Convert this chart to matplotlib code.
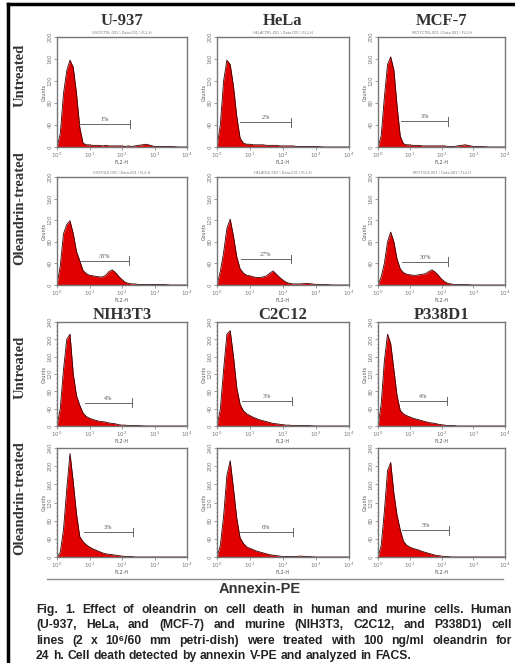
import numpy as np
import matplotlib.pyplot as plt
from matplotlib.lines import Line2D

# FL2-H positions in decades (10^0 .. 10^4)
decades = [0, .1, .2, .3, .4, .5, .6, .7, .8, .9, 1.0, 1.1, 1.2, 1.3, 1.4, 1.5,
           1.6, 1.7, 1.8, 1.9, 2.0, 2.1, 2.2, 2.3, 2.4, 2.5, 2.75, 3.0, 3.25,
           3.5, 3.75, 4.0]

# counts, human cells (rows 1-2)
u937_untreated = [0, 24, 97, 139, 158, 145, 97, 36, 7, 4, 4, 3, 3, 3, 2, 3, 2, 2, 2, 2, 2, 1, 2, 1, 2, 3, 5, 1, 1, 1, 0, 0]
hela_untreated = [0, 40, 120, 158, 150, 110, 55, 16, 7, 5, 5, 4, 4, 4, 4, 3, 3, 3, 3, 2, 2, 2, 2, 2, 1, 1, 1, 1, 0, 0, 0, 0]
mcf7_untreated = [0, 20, 90, 150, 164, 140, 75, 20, 6, 4, 4, 3, 3, 3, 2, 2, 2, 2, 2, 2, 2, 2, 1, 1, 1, 2, 4, 1, 1, 0, 0, 0]
u937_treated = [0, 35, 95, 112, 119, 95, 62, 45, 27, 21, 18, 17, 16, 15, 15, 18, 25, 28, 23, 16, 10, 5, 3, 2, 2, 1, 1, 1, 1, 0, 0, 0]
hela_treated = [0, 25, 60, 105, 122, 90, 52, 30, 22, 18, 17, 15, 14, 14, 15, 17, 22, 26, 20, 14, 9, 5, 3, 2, 2, 2, 3, 1, 1, 0, 0, 0]
mcf7_treated = [0, 15, 40, 80, 98, 80, 48, 30, 23, 20, 19, 18, 18, 19, 20, 21, 25, 28, 24, 18, 11, 6, 3, 2, 1, 1, 1, 0, 0, 0, 0, 0]

# counts, murine cells (rows 3-4)
nih_untreated = [0, 40, 130, 200, 212, 120, 70, 48, 30, 22, 18, 15, 13, 11, 10, 9, 7, 6, 5, 3, 2, 2, 1, 1, 1, 1, 0, 0, 0, 0, 0, 0]
c2c12_untreated = [0, 38, 130, 212, 220, 160, 88, 50, 35, 28, 24, 20, 17, 14, 12, 10, 8, 6, 5, 4, 3, 2, 2, 1, 1, 1, 1, 0, 0, 0, 0, 0]
p338_untreated = [0, 50, 150, 212, 190, 130, 70, 36, 28, 24, 21, 18, 16, 14, 12, 10, 8, 7, 6, 4, 3, 2, 1, 1, 1, 0, 0, 0, 0, 0, 0, 0]
nih_treated = [0, 10, 60, 150, 228, 165, 95, 45, 34, 27, 22, 18, 15, 12, 9, 7, 6, 5, 4, 3, 2, 1, 1, 1, 0, 0, 0, 0, 0, 0, 0, 0]
c2c12_treated = [0, 25, 90, 180, 212, 150, 85, 42, 30, 22, 19, 16, 13, 11, 9, 7, 5, 4, 3, 2, 1, 1, 1, 1, 1, 2, 1, 0, 0, 0, 0, 0]
p338_treated = [0, 25, 100, 190, 208, 140, 92, 60, 35, 26, 22, 19, 17, 15, 12, 10, 8, 6, 4, 3, 2, 1, 1, 0, 0, 0, 0, 0, 0, 0, 0, 0]

counts = [[u937_untreated, hela_untreated, mcf7_untreated],
          [u937_treated, hela_treated, mcf7_treated],
          [nih_untreated, c2c12_untreated, p338_untreated],
          [nih_treated, c2c12_treated, p338_treated]]

# marker gates: (start decade, end decade, height, label)
gates = [[(0.67, 2.26, 42, '1%'), (0.70, 2.25, 45, '2%'), (0.74, 2.20, 47, '3%')],
         [(0.71, 2.23, 45, '33%'), (0.73, 2.23, 48, '27%'), (0.77, 2.22, 43, '30%')],
         [(0.85, 2.30, 54, '4%'), (0.76, 2.27, 57, '3%'), (0.69, 2.18, 58, '4%')],
         [(0.82, 2.33, 55, '3%'), (0.68, 2.29, 55, '6%'), (0.76, 2.24, 59, '5%')]]

human_lines = ['U-937', 'HeLa', 'MCF-7']
murine_lines = ['NIH3T3', 'C2C12', 'P338D1']
row_labels = ['Untreated', 'Oleandrin-treated', 'Untreated', 'Oleandrin-treated']
file_tags = [['U937CTRL.001 \\ Data.001 \\ FL2-H', 'HELACTRL.001 \\ Data.001 \\ FL2-H', 'MCF7CTRL.001 \\ Data.001 \\ FL2-H'],
             ['U937OLE.001 \\ Data.001 \\ FL2-H', 'HELAOLE.001 \\ Data.001 \\ FL2-H', 'MCF7OLE.001 \\ Data.001 \\ FL2-H']]

caption = ["Fig. 1. Effect of oleandrin on cell death in human and murine cells. Human",
           "(U-937, HeLa, and (MCF-7) and murine (NIH3T3, C2C12, and P338D1) cell",
           "lines (2 x 10⁶/60 mm petri-dish) were treated with 100 ng/ml oleandrin for",
           "24 h. Cell death detected by annexin V-PE and analyzed in FACS."]

W, H = 515, 663
fig = plt.figure(figsize=(W / 100, H / 100), dpi=100)
SERIF = ['Liberation Serif', 'DejaVu Serif']
SANS = ['Liberation Sans', 'DejaVu Sans']


def fx(p):
    return p / W


def fy(p):
    return 1 - p / H


col_px = [(57, 187), (217, 349), (378, 505)]
row_px = [(37, 147), (177, 285), (322, 426), (448, 557)]
x = 10 ** np.array(decades)

for r in range(4):
    top, bot = row_px[r]
    ymax = 200 if r < 2 else 240
    for c in range(3):
        left, right = col_px[c]
        ax = fig.add_axes([fx(left), fy(bot), fx(right - left), (bot - top) / H])
        y = np.array(counts[r][c])
        ax.fill_between(x, y, color='#e00000', lw=0)
        ax.plot(x, y, color='#3a0000', lw=0.6)
        ax.set_xscale('log')
        ax.set_xlim(1, 1e4)
        ax.set_ylim(0, ymax)
        ax.set_xticks([1, 10, 100, 1000, 10000])
        ax.set_xticklabels([r'$10^0$', r'$10^1$', r'$10^2$', r'$10^3$', r'$10^4$'],
                           fontsize=4, color='#555555')
        ax.xaxis.set_minor_locator(plt.NullLocator())
        yt = np.arange(0, ymax + 1, 40)
        ax.set_yticks(yt)
        ax.set_yticklabels([str(v) for v in yt], fontsize=4, rotation=90,
                           va='center', color='#555555')
        if r >= 2:
            ax.set_yticks(np.arange(0, ymax + 1, 10), minor=True)
        ax.tick_params(which='both', length=2, width=0.5, pad=1, colors='#777777')
        ax.tick_params(which='minor', length=1)
        for s in ax.spines.values():
            s.set_color('#777777')
            s.set_linewidth(1.0)
        ax.set_xlabel('FL2-H', fontsize=3.5, color='#555555', labelpad=0)
        ax.set_ylabel('Counts', fontsize=3.5, color='#555555', labelpad=1)

        g0, g1, gh, glab = gates[r][c]
        ax.plot([10 ** g0, 10 ** g1], [gh, gh], color='#666666', lw=0.7)
        ax.plot([10 ** g1, 10 ** g1], [gh - 8 * ymax / 200, gh + 8 * ymax / 200],
                color='#666666', lw=0.7)
        ax.text(10 ** ((g0 + g1) / 2), gh + 4 * ymax / 200, glab, ha='center',
                va='bottom', fontsize=4.5, color='#555555', family=SERIF)
        if r < 2:
            ax.text(0.5, 1.02, file_tags[r][c], transform=ax.transAxes, ha='center',
                    va='bottom', fontsize=2.5, color='#777777')

# column titles
for c in range(3):
    cx = (col_px[c][0] + col_px[c][1]) / 2
    fig.text(fx(cx), fy(21), human_lines[c], ha='center', va='center',
             fontsize=12, fontweight='bold', family=SERIF, color='#333333')
    fig.text(fx(cx), fy(315), murine_lines[c], ha='center', va='center',
             fontsize=12, fontweight='bold', family=SERIF, color='#333333')

# row labels
for ylab, txt in zip([75, 208, 367, 498], row_labels):
    fig.text(fx(20), fy(ylab), txt, rotation=90, ha='center', va='center',
             fontsize=10.5, fontweight='bold', family=SERIF, color='#333333')

# frame
fig.add_artist(Line2D([fx(8), fx(8)], [0, fy(4)], transform=fig.transFigure,
                      color='black', lw=2.5))
fig.add_artist(Line2D([fx(8), 1], [fy(4), fy(4)], transform=fig.transFigure,
                      color='black', lw=2.5))

# common x label
fig.add_artist(Line2D([fx(47), fx(503)], [fy(579), fy(579)], transform=fig.transFigure,
                      color='#888888', lw=1.0))
fig.text(fx(260), fy(589), 'Annexin-PE', ha='center', va='center', fontsize=10.5,
         fontweight='bold', family=SANS, color='#333333')

# caption, justified
renderer = fig.canvas.get_renderer()
cap_left, cap_right = 36, 512
for i, line in enumerate(caption):
    yy = fy(610 + i * 15.3)
    words = line.split(' ')
    objs = [fig.text(0, yy, w, fontsize=8.7, fontweight='bold', family=SANS,
                     color='#222222', va='center') for w in words]
    widths = [o.get_window_extent(renderer).width for o in objs]
    if i < len(caption) - 1:
        gap = (cap_right - cap_left - sum(widths)) / (len(words) - 1)
    else:
        gap = objs[0].get_fontsize() * 0.28 * 100 / 72
    pos = cap_left
    for o, w in zip(objs, widths):
        o.set_x(fx(pos))
        pos += w + gap

fig.savefig('out.png', dpi=100)
